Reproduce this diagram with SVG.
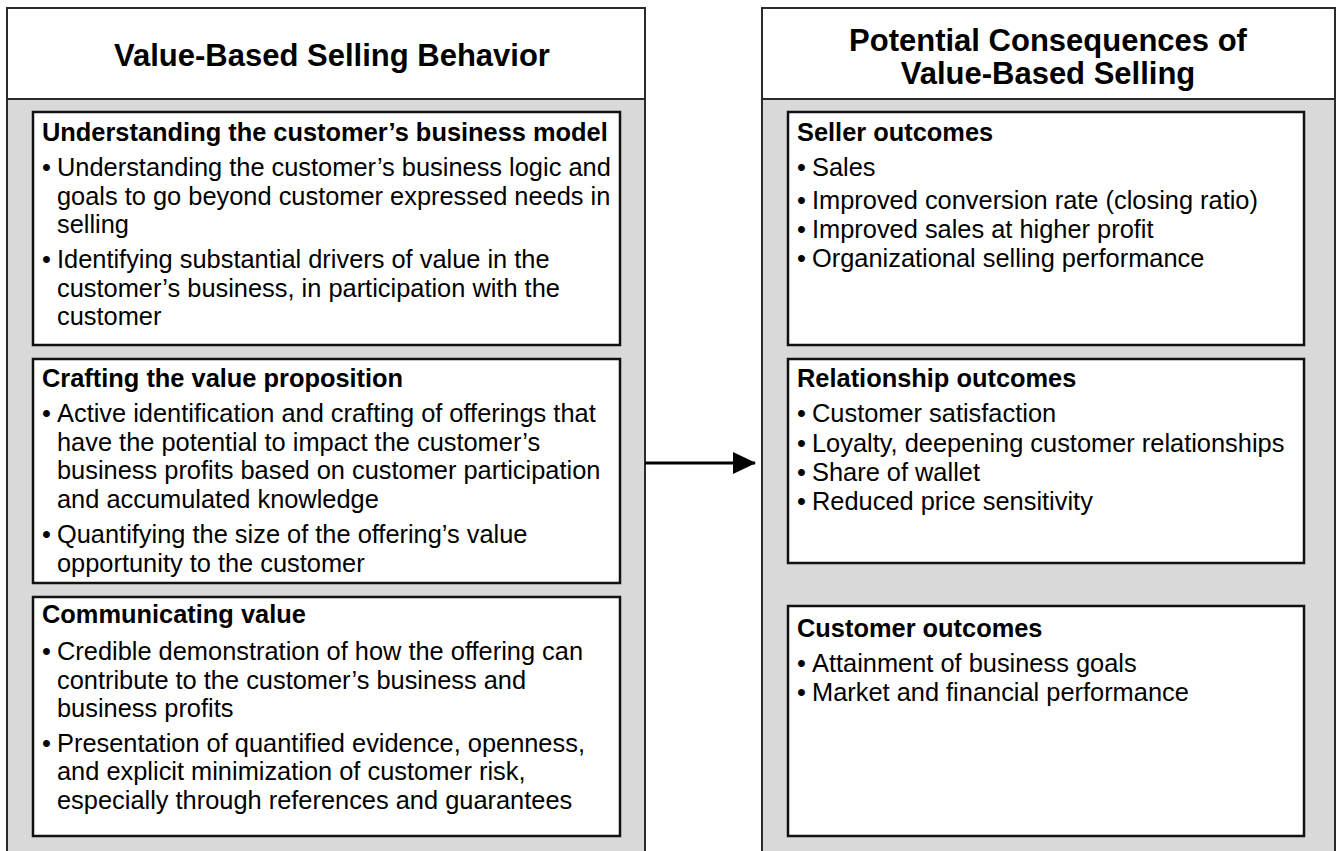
<svg xmlns="http://www.w3.org/2000/svg" width="1337" height="851" viewBox="0 0 1337 851">
  <style>
    .panel { fill: #d9d9d9; stroke: #2b2b2b; stroke-width: 2; }
    .head { fill: #ffffff; stroke: #2b2b2b; stroke-width: 2; }
    .box { fill: #ffffff; stroke: #111111; stroke-width: 2.5; }
    text { font-family: "Liberation Sans", Arial, sans-serif; fill: #000000; }
    .title { font-size: 31px; font-weight: bold; text-anchor: middle; }
    .sub { font-size: 25.4px; font-weight: bold; }
    .body { font-size: 25.4px; }
    .conn { stroke: #000000; stroke-width: 3; fill: none; }
  </style>
  <defs>
    <marker id="arrow" markerWidth="23" markerHeight="22" refX="22" refY="11" orient="auto" markerUnits="userSpaceOnUse" viewBox="0 0 23 22">
      <path d="M0,0 L23,11 L0,22 Z" fill="#000000"/>
    </marker>
  </defs>
  <rect width="1337" height="851" fill="#ffffff"/>

  <!-- Left column: selling behaviour -->
  <g id="behavior">
    <rect class="panel" x="7" y="8" width="638" height="860"/>
    <rect class="head" x="7" y="8" width="638" height="91"/>
    <text class="title" x="332" y="66">Value-Based Selling Behavior</text>
  </g>

  <g id="business-model">
    <rect class="box" x="33" y="112" width="587" height="233"/>
    <text class="sub" x="42" y="141">Understanding the customer’s business model</text>
    <text class="body" x="42" y="176">•</text>
    <text class="body" x="57" y="176">Understanding the customer’s business logic and</text>
    <text class="body" x="57" y="205">goals to go beyond customer expressed needs in</text>
    <text class="body" x="57" y="233">selling</text>
    <text class="body" x="42" y="268">•</text>
    <text class="body" x="57" y="268">Identifying substantial drivers of value in the</text>
    <text class="body" x="57" y="297">customer’s business, in participation with the</text>
    <text class="body" x="57" y="325">customer</text>
  </g>

  <g id="value-proposition">
    <rect class="box" x="33" y="359" width="587" height="224"/>
    <text class="sub" x="42" y="387">Crafting the value proposition</text>
    <text class="body" x="42" y="422">•</text>
    <text class="body" x="57" y="422">Active identification and crafting of offerings that</text>
    <text class="body" x="57" y="451">have the potential to impact the customer’s</text>
    <text class="body" x="57" y="479">business profits based on customer participation</text>
    <text class="body" x="57" y="508">and accumulated knowledge</text>
    <text class="body" x="42" y="543">•</text>
    <text class="body" x="57" y="543">Quantifying the size of the offering’s value</text>
    <text class="body" x="57" y="572">opportunity to the customer</text>
  </g>

  <g id="communicating-value">
    <rect class="box" x="33" y="597" width="587" height="239"/>
    <text class="sub" x="42" y="623">Communicating value</text>
    <text class="body" x="42" y="660">•</text>
    <text class="body" x="57" y="660">Credible demonstration of how the offering can</text>
    <text class="body" x="57" y="689">contribute to the customer’s business and</text>
    <text class="body" x="57" y="717">business profits</text>
    <text class="body" x="42" y="752">•</text>
    <text class="body" x="57" y="752">Presentation of quantified evidence, openness,</text>
    <text class="body" x="57" y="780">and explicit minimization of customer risk,</text>
    <text class="body" x="57" y="809">especially through references and guarantees</text>
  </g>

  <!-- Right column: consequences -->
  <g id="consequences">
    <rect class="panel" x="762" y="8" width="573" height="860"/>
    <rect class="head" x="762" y="8" width="573" height="91"/>
    <text class="title" x="1048" y="51">Potential Consequences of</text>
    <text class="title" x="1048" y="84">Value-Based Selling</text>
  </g>

  <g id="seller-outcomes">
    <rect class="box" x="788" y="112" width="516" height="233"/>
    <text class="sub" x="797" y="141">Seller outcomes</text>
    <text class="body" x="797" y="176">•</text>
    <text class="body" x="812" y="176">Sales</text>
    <text class="body" x="797" y="209">•</text>
    <text class="body" x="812" y="209">Improved conversion rate (closing ratio)</text>
    <text class="body" x="797" y="238">•</text>
    <text class="body" x="812" y="238">Improved sales at higher profit</text>
    <text class="body" x="797" y="267">•</text>
    <text class="body" x="812" y="267">Organizational selling performance</text>
  </g>

  <g id="relationship-outcomes">
    <rect class="box" x="788" y="359" width="516" height="204"/>
    <text class="sub" x="797" y="387">Relationship outcomes</text>
    <text class="body" x="797" y="422">•</text>
    <text class="body" x="812" y="422">Customer satisfaction</text>
    <text class="body" x="797" y="452">•</text>
    <text class="body" x="812" y="452">Loyalty, deepening customer relationships</text>
    <text class="body" x="797" y="481">•</text>
    <text class="body" x="812" y="481">Share of wallet</text>
    <text class="body" x="797" y="510">•</text>
    <text class="body" x="812" y="510">Reduced price sensitivity</text>
  </g>

  <g id="customer-outcomes">
    <rect class="box" x="788" y="606" width="516" height="230"/>
    <text class="sub" x="797" y="637">Customer outcomes</text>
    <text class="body" x="797" y="672">•</text>
    <text class="body" x="812" y="672">Attainment of business goals</text>
    <text class="body" x="797" y="701">•</text>
    <text class="body" x="812" y="701">Market and financial performance</text>
  </g>

  <g id="connectors">
    <line class="conn" x1="645" y1="463" x2="755" y2="463" marker-end="url(#arrow)"/>
  </g>
</svg>
